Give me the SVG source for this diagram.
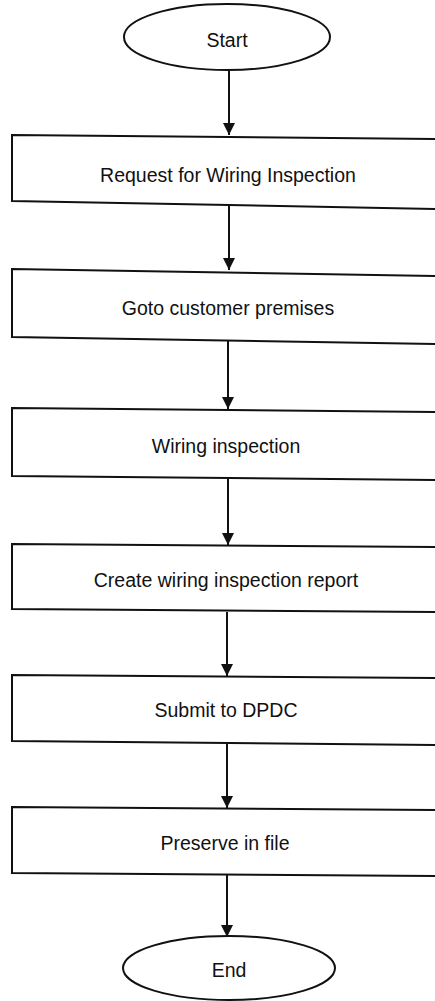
<svg xmlns="http://www.w3.org/2000/svg" width="435" height="1001" viewBox="0 0 435 1001">
<defs>
<marker id="ah" viewBox="0 0 12 12" refX="12" refY="6" markerWidth="12" markerHeight="12" markerUnits="userSpaceOnUse" orient="auto">
<path d="M0,0 L12,6 L0,12 Z" fill="#111"/>
</marker>
<style>
.shape{fill:#fff;stroke:#111;stroke-width:2}
.lbl{font-family:"Liberation Sans",Arial,sans-serif;font-size:19.5px;fill:#111;text-anchor:middle}
.edge{stroke:#111;stroke-width:2;fill:none;marker-end:url(#ah)}
</style>
</defs>
<rect width="435" height="1001" fill="#fff"/>
<g id="connectors">
<line class="edge" x1="229" y1="71" x2="229" y2="135"/>
<line class="edge" x1="229" y1="205" x2="229" y2="270"/>
<line class="edge" x1="228" y1="341" x2="228" y2="409"/>
<line class="edge" x1="228" y1="479" x2="228" y2="545"/>
<line class="edge" x1="227" y1="612" x2="227" y2="676"/>
<line class="edge" x1="227" y1="744" x2="227" y2="808"/>
<line class="edge" x1="227" y1="875" x2="227" y2="937"/>
</g>
<g id="start">
<ellipse class="shape" cx="227" cy="37" rx="103" ry="33"/>
<text class="lbl" x="227" y="47">Start</text>
</g>
<g id="request">
<path class="shape" d="M12,135 L440,139 L440,209 L12,201 Z"/>
<text class="lbl" x="228" y="182">Request for Wiring Inspection</text>
</g>
<g id="goto">
<path class="shape" d="M12,269 L440,276 L440,344 L12,337 Z"/>
<text class="lbl" x="228" y="315">Goto customer premises</text>
</g>
<g id="inspection">
<path class="shape" d="M12,408 L440,412 L440,480 L12,476 Z"/>
<text class="lbl" x="226" y="453">Wiring inspection</text>
</g>
<g id="report">
<path class="shape" d="M12,544 L440,547 L440,612 L12,609 Z"/>
<text class="lbl" x="226" y="587">Create wiring inspection report</text>
</g>
<g id="submit">
<path class="shape" d="M12,675 L440,678 L440,745 L12,741 Z"/>
<text class="lbl" x="226" y="717">Submit to DPDC</text>
</g>
<g id="preserve">
<path class="shape" d="M12,807 L440,810 L440,876 L12,873 Z"/>
<text class="lbl" x="225" y="850">Preserve in file</text>
</g>
<g id="end">
<ellipse class="shape" cx="229" cy="968" rx="106" ry="32"/>
<text class="lbl" x="229" y="977">End</text>
</g>
</svg>
